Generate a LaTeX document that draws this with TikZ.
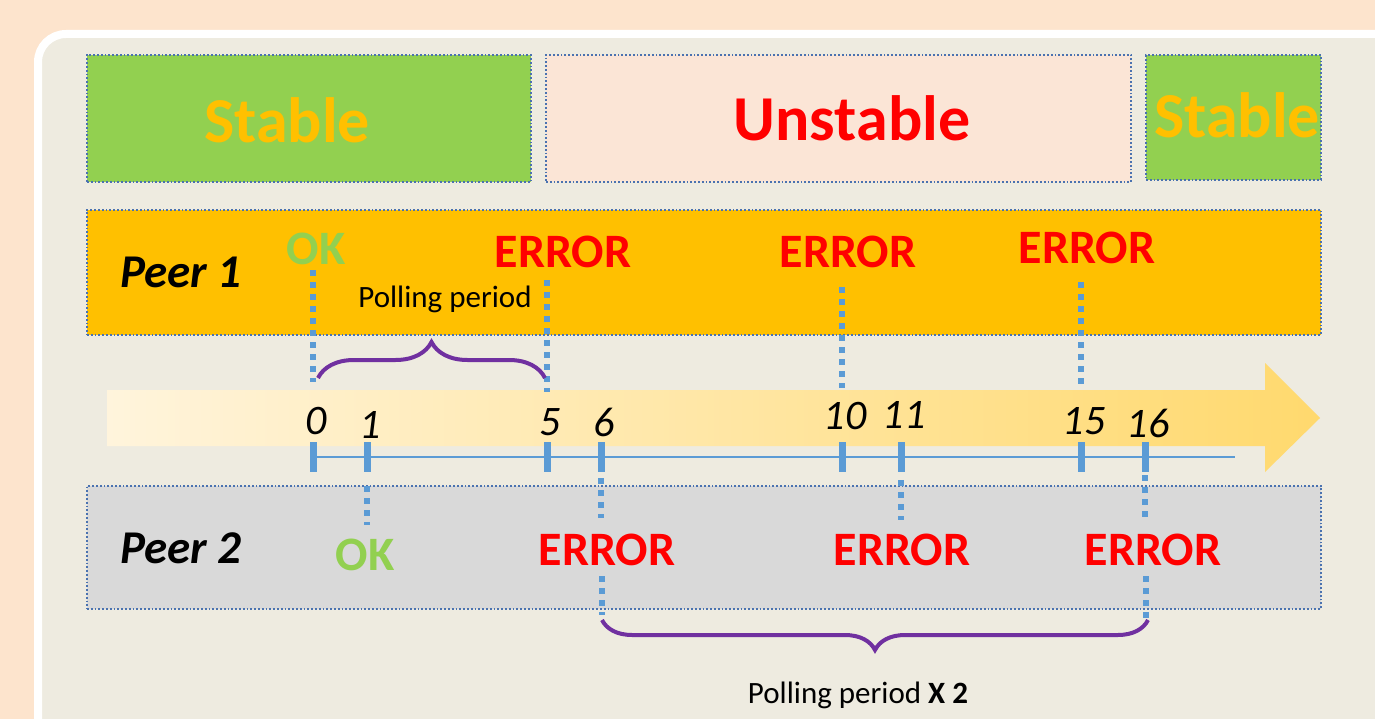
\documentclass[tikz,border=0pt]{standalone}
\usepackage{fontspec}
\setmainfont{Carlito}
\usepackage{tikz}
\usetikzlibrary{calc,decorations.pathreplacing}
\definecolor{bgpeach}{HTML}{FDE4CD}
\definecolor{panelfill}{HTML}{EEEBE0}
\definecolor{stablegreen}{HTML}{92D050}
\definecolor{unstablepink}{HTML}{FBE5D6}
\definecolor{peerorange}{HTML}{FFC000}
\definecolor{peergrey}{HTML}{D9D9D9}
\definecolor{dotblue}{HTML}{4A72B0}
\definecolor{lineblue}{HTML}{5B9BD5}
\definecolor{bracepurple}{HTML}{7030A0}
\definecolor{arrowlight}{HTML}{FFF4DC}
\definecolor{arrowdark}{HTML}{FFD96E}
\newcommand\setfs[1]{\fontsize{#1}{#1}\selectfont}

\begin{document}
\begin{tikzpicture}[x=1pt,y=-1pt,
    stagebox/.style={draw=dotblue,line width=1.8,dash pattern=on 1.8 off 2,inner sep=0},
    bigword/.style={font=\setfs{64}\bfseries,inner sep=0},
    status/.style={font=\setfs{48}\bfseries,inner sep=0},
    peername/.style={font=\setfs{47}\bfseries\itshape,inner sep=0},
    ticknum/.style={font=\setfs{42}\itshape,inner sep=0},
    pollnote/.style={font=\setfs{31},inner sep=0,anchor=base},
    tickmark/.style={fill=lineblue,minimum width=7,minimum height=30,inner sep=0},
    pollline/.style={draw=lineblue,line width=5.5,dash pattern=on 5.5 off 6.5},
    pollbrace/.style={draw=bracepurple,line width=4,decorate}]
  \useasboundingbox (0,0) rectangle (1375,719);
  \clip (0,0) rectangle (1375,719);
  \fill[bgpeach] (0,0) rectangle (1375,719);
  % panel
  \draw[white,line width=8,fill=panelfill,rounded corners=28] (38,34) rectangle (1430,780);

  % stability boxes
  \node[stagebox,fill=stablegreen,minimum width=444,minimum height=127] (stableA) at (309,118.5) {};
  \node[stagebox,fill=unstablepink,minimum width=585,minimum height=127] (unstable) at (838.5,118.5) {};
  \node[stagebox,fill=stablegreen,minimum width=175,minimum height=125] (stableB) at (1233.5,117.5) {};
  \node[bigword,text=peerorange] (stableAtxt) at (287,120) {Stable};
  \node[bigword,text=red] (unstabletxt) at (852,118) {Unstable};
  \node[bigword,text=peerorange] (stableBtxt) at (1237,115) {Stable};

  % peer bands
  \node[stagebox,fill=peerorange,minimum width=1234,minimum height=125] (peerA) at (704,272.5) {};
  \node[stagebox,fill=peergrey,minimum width=1234,minimum height=123] (peerB) at (704,547.5) {};
  \node[peername] (peerAtxt) at (181,272) {Peer 1};
  \node[peername] (peerBtxt) at (181,548) {Peer 2};

  % time arrow
  \shade[left color=arrowlight,right color=arrowdark]
    (107,390) -- (1265,390) -- (1265,363) -- (1320,418) -- (1265,472) -- (1265,446) -- (107,446) -- cycle;
  \draw[lineblue,line width=2.5] (313,457) -- (1235,457);
  \foreach \t/\x/\ny in {0/313/421,1/367/425,5/547/422,6/601/422,10/842/416,11/901/415,15/1081/421,16/1145/423}{
    \node[tickmark] (t\t) at (\x,457) {};
    \node[ticknum] (n\t) at (\x+3,\ny) {\t};
  }

  % peer 1 polls
  \node[status,text=stablegreen] (okA) at (316,249) {OK};
  \node[status,text=red] (errA) at (563,252) {ERROR};
  \node[status,text=red] (errB) at (848,252) {ERROR};
  \node[status,text=red] (errC) at (1087,248) {ERROR};
  \foreach \t/\a/\b in {0/270/382,5/280/392,10/287/388,15/282/385}
    \draw[pollline] (t\t |- 0,\a) -- (t\t |- 0,\b);

  % peer 2 polls
  \node[status,text=stablegreen] (okB) at (365,555) {OK};
  \node[status,text=red] (errD) at (607,550) {ERROR};
  \node[status,text=red] (errE) at (902,550) {ERROR};
  \node[status,text=red] (errF) at (1153,550) {ERROR};
  \foreach \t/\a/\b in {1/486/525,6/478/518,11/480/520,16/475/518}
    \draw[pollline] (t\t |- 0,\a) -- (t\t |- 0,\b);
  \foreach \t/\a/\b in {6/576/615,16/576/618}
    \draw[pollline] ([xshift=1]t\t |- 0,\a) -- ([xshift=1]t\t |- 0,\b);

  % polling periods
  \draw[pollbrace,decoration={brace,amplitude=36}] (318,378) -- (545,378);
  \node[pollnote] (periodA) at (445,307) {Polling period};
  \draw[pollbrace,decoration={brace,amplitude=30}] (1148,620) -- (602,620);
  \node[pollnote] (periodB) at (858,703) {Polling period \textbf{X 2}};
\end{tikzpicture}
\end{document}
